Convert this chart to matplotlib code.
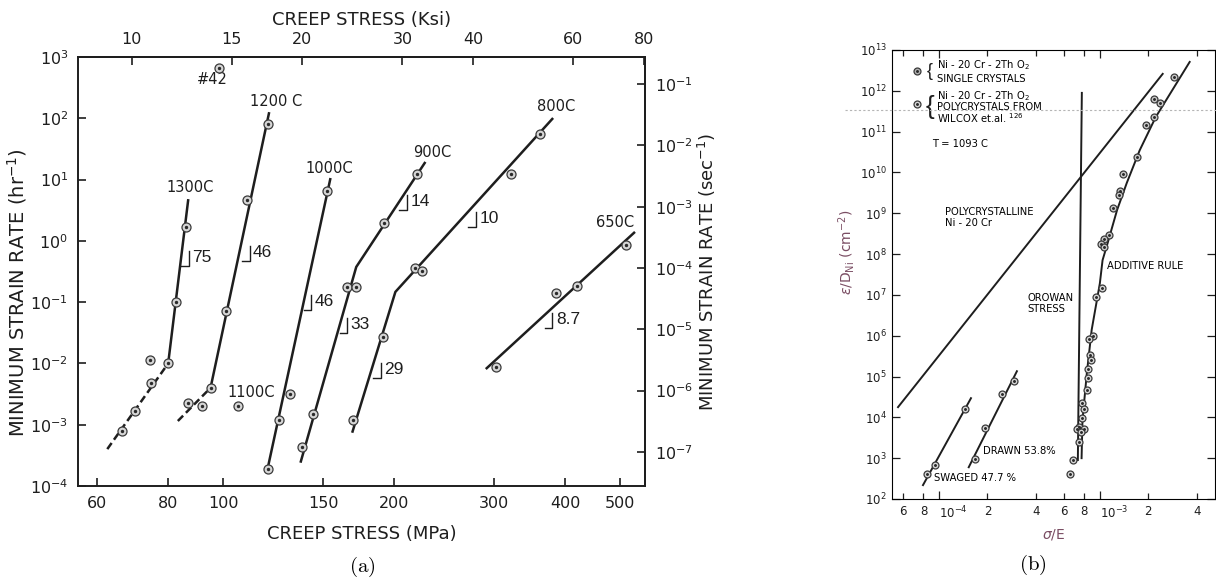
import numpy as np
import matplotlib.pyplot as plt
from matplotlib.ticker import FixedLocator, NullLocator, FixedFormatter, LogFormatterMathtext
from matplotlib.transforms import Affine2D, ScaledTranslation
from matplotlib.lines import Line2D

plt.rcParams['font.family'] = ['DejaVu Sans']
plt.rcParams['mathtext.fontset'] = 'dejavusans'

INK = '#1e1e1e'

# ---------------- panel (a): creep stress (MPa) vs min. strain rate (hr^-1)
t1300_s = [66.4, 70.0, 74.5, 74.3, 80.0, 82.6, 86.0]
t1300_r = [0.00079, 0.00168, 0.0048, 0.0115, 0.010, 0.10, 1.69]
t1300_dash_s = [62.5, 80.0]
t1300_dash_r = [4e-4, 0.010]
t1300_line_s = [80.0, 86.8]
t1300_line_r = [0.010, 4.8]

t1200_s = [86.8, 91.7, 95.0, 101.0, 110.0, 120.0]
t1200_r = [0.0023, 0.0020, 0.0040, 0.072, 4.6, 81.0]
t1200_dash_s = [83.2, 95.0]
t1200_dash_r = [0.00115, 0.0040]
t1200_line_s = [95.0, 120.5]
t1200_line_r = [0.0040, 126.0]

t1100_s = [106.0]
t1100_r = [0.0020]
p42_s = [98.3]
p42_r = [660.0]

t1000_s = [119.7, 125.6, 131.0, 152.5]
t1000_r = [1.9e-4, 0.0012, 0.0032, 6.5]
t1000_line_s = [119.7, 154.5]
t1000_line_r = [1.9e-4, 10.6]

t900_s = [137.7, 144.0, 165.0, 171.0, 192.0, 219.0]
t900_r = [4.4e-4, 0.0015, 0.177, 0.177, 1.96, 12.3]
t900_line_s = [136.8, 171.5, 227.0]
t900_line_r = [2.4e-4, 0.375, 19.4]

t800_s = [169.5, 191.0, 218.0, 224.0, 321.0, 361.0]
t800_r = [0.0012, 0.027, 0.36, 0.32, 12.3, 55.0]
t800_line_s = [168.7, 201.0, 381.0]
t800_line_r = [7.4e-4, 0.147, 101.0]

t650_s = [302.0, 386.0, 419.0, 513.0]
t650_r = [0.0088, 0.141, 0.18, 0.86]
t650_line_s = [290.0, 531.0]
t650_line_r = [0.0081, 1.4]

temp_labels = ['1300C', '1200 C', '#42', '1100C', '1000C', '900C', '800C', '650C']
temp_label_s = [87.3, 124.0, 95.8, 112.0, 153.8, 233.0, 386.0, 490.0]
temp_label_r = [7.3, 191.0, 422.0, 0.0033, 15.4, 28.0, 153.0, 1.96]

slope_labels = ['75', '46', '46', '33', '14', '10', '29', '8.7']
slope_s = [87.0, 111.3, 143.0, 165.4, 210.7, 278.4, 189.7, 380.0]
slope_r = [0.39, 0.47, 0.0746, 0.0315, 3.19, 1.69, 0.0058, 0.038]

ksi_ticks = [10, 15, 20, 30, 40, 60, 80]
mpa_ticks = [60, 80, 100, 150, 200, 300, 400, 500]
hr_ticks = [1e-4, 1e-3, 1e-2, 1e-1, 1e0, 1e1, 1e2, 1e3]
sec_ticks = [1e-7, 1e-6, 1e-5, 1e-4, 1e-3, 1e-2, 1e-1]

# ---------------- panel (b): sigma/E vs eps/D_Ni
poly_x = [2.88e-3, 2.16e-3, 2.36e-3, 2.16e-3, 1.93e-3, 1.70e-3, 1.39e-3, 1.33e-3,
          1.31e-3, 1.20e-3, 1.14e-3, 1.06e-3, 1.01e-3, 1.06e-3]
poly_y = [2.2e12, 6.3e11, 5.0e11, 2.3e11, 1.45e11, 2.4e10, 9.1e9, 3.5e9,
          2.8e9, 1.35e9, 2.9e8, 2.3e8, 1.8e8, 1.5e8]
single_x = [1.03e-3, 9.4e-4, 9.05e-4, 8.55e-4, 8.7e-4, 8.8e-4, 8.4e-4, 8.4e-4, 8.3e-4,
            7.7e-4, 7.96e-4, 7.8e-4, 7.4e-4, 7.2e-4, 7.96e-4, 7.6e-4, 7.4e-4, 6.8e-4, 6.5e-4]
single_y = [1.5e7, 9e6, 1.0e6, 8.3e5, 3.3e5, 2.5e5, 1.5e5, 9.1e4, 4.7e4,
            2.2e4, 1.6e4, 9.5e3, 5.8e3, 5.1e3, 5.1e3, 4.3e3, 2.5e3, 9e2, 4.1e2]

additive_x = [3.62e-3, 2.23e-3, 1.77e-3, 1.47e-3, 1.28e-3, 1.12e-3, 1.04e-3, 1.0e-3,
              8.9e-4, 8.3e-4, 7.8e-4, 7.7e-4]
additive_y = [5.1e12, 2.3e11, 3.5e10, 5.5e9, 1.2e9, 1.9e8, 7.1e7, 1.9e7,
              1.4e6, 1.2e5, 8.5e3, 1e3]
orowan_x = [7.73e-4, 7.30e-4]
orowan_y = [8.9e11, 9e2]
polyni_x = [5.56e-5, 2.46e-3]
polyni_y = [1.78e4, 2.6e12]

swaged_x = [8.42e-5, 9.45e-5, 1.45e-4]
swaged_y = [4.1e2, 6.8e2, 1.6e4]
swaged_line_x = [7.95e-5, 1.58e-4]
swaged_line_y = [219.0, 2.95e4]
drawn_x = [1.67e-4, 1.93e-4, 2.46e-4, 2.92e-4]
drawn_y = [9.6e2, 5.5e3, 3.7e4, 7.8e4]
drawn_line_x = [1.53e-4, 3.05e-4]
drawn_line_y = [6.0e2, 1.35e5]

legend_x = [7.3e-5, 7.3e-5]
legend_y = [3.1e12, 4.8e11]

b_major_x = [1e-4, 1e-3]
b_minor_x = [6e-5, 8e-5, 2e-4, 4e-4, 6e-4, 8e-4, 2e-3, 4e-3]
b_minor_lab = ['6', '8', '2', '4', '6', '8', '2', '4']
b_y_ticks = [10.0 ** k for k in range(2, 14)]


def dotted_circles(ax, x, y, ms, fc='#d6d6d6'):
    ax.plot(x, y, 'o', ms=ms, mfc=fc, mec='#3a3a3a', mew=0.9, ls='none', zorder=4)
    ax.plot(x, y, 'o', ms=ms * 0.22, mfc='#2a2a2a', mec='#2a2a2a', ls='none', zorder=5)


fig = plt.figure(figsize=(12.16, 5.81), dpi=100)

# ================= (a)
ax = fig.add_axes([0.06414, 0.16351, 0.46628, 0.73838])
ax.set_xscale('log')
ax.set_yscale('log')
ax.set_xlim(55.5, 553)
ax.set_ylim(1e-4, 1e3)

for xs, ys in [(t1300_line_s, t1300_line_r), (t1200_line_s, t1200_line_r),
               (t1000_line_s, t1000_line_r), (t900_line_s, t900_line_r),
               (t800_line_s, t800_line_r), (t650_line_s, t650_line_r)]:
    ax.plot(xs, ys, color=INK, lw=1.8, solid_capstyle='butt')
for xs, ys in [(t1300_dash_s, t1300_dash_r), (t1200_dash_s, t1200_dash_r)]:
    ax.plot(xs, ys, color=INK, lw=1.8, ls=(0, (3.0, 1.6)))

for xs, ys in [(t1300_s, t1300_r), (t1200_s, t1200_r), (t1100_s, t1100_r), (p42_s, p42_r),
               (t1000_s, t1000_r), (t900_s, t900_r), (t800_s, t800_r), (t650_s, t650_r)]:
    dotted_circles(ax, xs, ys, 6.5)

for lab, xs, ys in zip(temp_labels, temp_label_s, temp_label_r):
    ax.text(xs, ys, lab, fontsize=10.5, ha='center', va='center', color=INK)


def slope_mark(ax, x, y, txt):
    tr = Affine2D().scale(fig.dpi / 72.0) + ScaledTranslation(x, y, ax.transData)
    ax.plot([-5.5, 0, 0], [0, 0, 11], color=INK, lw=1.0, transform=tr)
    ax.text(2.5, 6.0, txt, transform=tr, fontsize=12.5, family='Liberation Sans',
            ha='left', va='center', color=INK)


for lab, xs, ys in zip(slope_labels, slope_s, slope_r):
    slope_mark(ax, xs, ys, lab)

ax.xaxis.set_major_locator(FixedLocator(mpa_ticks))
ax.xaxis.set_major_formatter(FixedFormatter([str(v) for v in mpa_ticks]))
ax.xaxis.set_minor_locator(NullLocator())
ax.yaxis.set_major_locator(FixedLocator(hr_ticks))
ax.yaxis.set_major_formatter(LogFormatterMathtext())
ax.yaxis.set_minor_locator(NullLocator())
ax.tick_params(direction='in', length=6, width=1.2, labelsize=11.5, colors=INK, pad=7)
ax.set_xlabel('CREEP STRESS (MPa)', fontsize=13, labelpad=10, color=INK)
ax.set_ylabel('MINIMUM STRAIN RATE (hr$^{-1}$)', fontsize=14, color=INK)
ax.yaxis.set_label_coords(-0.0864, 0.45)

top = ax.secondary_xaxis('top', functions=(lambda v: v / 6.895, lambda v: v * 6.895))
top.xaxis.set_major_locator(FixedLocator(ksi_ticks))
top.xaxis.set_major_formatter(FixedFormatter([str(v) for v in ksi_ticks]))
top.xaxis.set_minor_locator(NullLocator())
top.tick_params(direction='in', length=6, width=1.2, labelsize=11.5, colors=INK, pad=7)
top.set_xlabel('CREEP STRESS (Ksi)', fontsize=13, labelpad=5, color=INK)

right = ax.secondary_yaxis('right', functions=(lambda v: v / 3600.0, lambda v: v * 3600.0))
right.yaxis.set_major_locator(FixedLocator(sec_ticks))
right.yaxis.set_major_formatter(LogFormatterMathtext())
right.yaxis.set_minor_locator(NullLocator())
right.tick_params(direction='in', length=6, width=1.2, labelsize=11.5, colors=INK, pad=7)
right.set_ylabel('MINIMUM STRAIN RATE (sec$^{-1}$)', fontsize=13, color=INK, labelpad=2)

for sp in list(ax.spines.values()) + [top.spines['top'], right.spines['right']]:
    sp.set_linewidth(1.4)
    sp.set_color(INK)

# ================= (b)
bx = fig.add_axes([0.73355, 0.14114, 0.2656, 0.77281])
bx.set_xscale('log')
bx.set_yscale('log')
bx.set_xlim(5.1e-5, 5.2e-3)
bx.set_ylim(1e2, 1e13)

bx.plot(polyni_x, polyni_y, color=INK, lw=1.4)
bx.plot(orowan_x, orowan_y, color=INK, lw=1.4)
bx.plot(additive_x, additive_y, color=INK, lw=1.4)
bx.plot(swaged_line_x, swaged_line_y, color=INK, lw=1.4)
bx.plot(drawn_line_x, drawn_line_y, color=INK, lw=1.4)

dotted_circles(bx, poly_x, poly_y, 5.0, fc='#c8c8c8')
dotted_circles(bx, single_x, single_y, 5.0)
dotted_circles(bx, swaged_x, swaged_y, 5.0)
dotted_circles(bx, drawn_x, drawn_y, 5.0)
dotted_circles(bx, legend_x[:1], legend_y[:1], 5.0, fc='#b0b0b0')
dotted_circles(bx, legend_x[1:], legend_y[1:], 5.0)

fs_b = 7.2
bx.text(0.108, 0.951, '{', transform=bx.transAxes, fontsize=13, va='center', ha='left',
        color=INK, family='Liberation Sans')
bx.text(0.138, 0.967, 'Ni - 20 Cr - 2Th O$_2$', transform=bx.transAxes, fontsize=fs_b, va='center')
bx.text(0.138, 0.935, 'SINGLE CRYSTALS', transform=bx.transAxes, fontsize=fs_b, va='center')
bx.text(0.105, 0.873, '{', transform=bx.transAxes, fontsize=19, va='center', ha='left',
        color=INK, family='Liberation Sans')
bx.text(0.138, 0.8975, 'Ni - 20 Cr - 2Th O$_2$', transform=bx.transAxes, fontsize=fs_b, va='center')
bx.text(0.138, 0.873, 'POLYCRYSTALS FROM', transform=bx.transAxes, fontsize=fs_b, va='center')
bx.text(0.138, 0.8486, 'WILCOX et.al. $^{126}$', transform=bx.transAxes, fontsize=fs_b, va='center')
bx.text(0.124, 0.79, 'T = 1093 C', transform=bx.transAxes, fontsize=fs_b, va='center')
bx.text(0.165, 0.627, 'POLYCRYSTALLINE\nNi - 20 Cr', transform=bx.transAxes, fontsize=fs_b,
        va='center', linespacing=1.1)
bx.text(0.42, 0.435, 'OROWAN\nSTRESS', transform=bx.transAxes, fontsize=fs_b,
        va='center', linespacing=1.1)
bx.text(0.667, 0.518, 'ADDITIVE RULE', transform=bx.transAxes, fontsize=fs_b, va='center')
bx.text(0.283, 0.107, 'DRAWN 53.8%', transform=bx.transAxes, fontsize=fs_b, va='center')
bx.text(0.130, 0.047, 'SWAGED 47.7 %', transform=bx.transAxes, fontsize=fs_b, va='center')

bx.xaxis.set_major_locator(FixedLocator(b_major_x))
bx.xaxis.set_major_formatter(LogFormatterMathtext())
bx.xaxis.set_minor_locator(FixedLocator(b_minor_x))
bx.xaxis.set_minor_formatter(FixedFormatter(b_minor_lab))
bx.yaxis.set_major_locator(FixedLocator(b_y_ticks))
bx.yaxis.set_major_formatter(LogFormatterMathtext())
bx.yaxis.set_minor_locator(NullLocator())
bx.tick_params(which='both', direction='in', top=True, right=True, width=0.9,
               labelsize=8.5, colors=INK, pad=4)
bx.tick_params(which='major', length=6)
bx.tick_params(which='minor', length=4.5)
for lab in bx.get_xticklabels():
    lab.set_horizontalalignment('left')
bx.set_xlabel(r'$\sigma$/E', fontsize=10, color='#7a4d63', labelpad=4)
bx.set_ylabel(r'$\epsilon$/D$_{\rm Ni}$ (cm$^{-2}$)', fontsize=10, color='#7a4d63')
bx.yaxis.set_label_coords(-0.108, 0.55)

# faint scan streak across panel (b)
fig.add_artist(Line2D([0.695, 1.0], [0.8107, 0.8107], transform=fig.transFigure,
                      color='#b5b5b5', lw=0.8, ls=(0, (2, 2))))

fig.text(0.2977, 0.024, r'$\mathrm{(a)}$', fontsize=15, ha='center', va='center', math_fontfamily='cm')
fig.text(0.8495, 0.027, r'$\mathrm{(b)}$', fontsize=15, ha='center', va='center', math_fontfamily='cm')

fig.savefig('out.png', dpi=100)
